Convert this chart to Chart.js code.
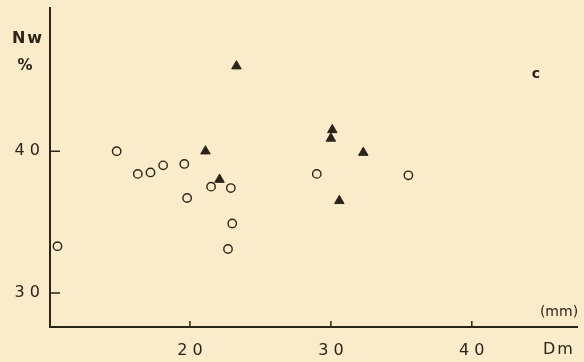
<!DOCTYPE html>
<html>
<head>
<meta charset="utf-8">
<script src="https://cdn.jsdelivr.net/npm/chart.js@4.4.0/dist/chart.umd.min.js"></script>
<style>
  html, body { margin: 0; padding: 0; background: #faecca; }
  #wrap { width: 584px; height: 362px; }
</style>
</head>
<body>
<div id="wrap"><canvas id="mycanvas"></canvas></div>
<script>
// open circles
var circleDm = [10.6, 14.8, 16.3, 17.2, 18.1, 19.6, 19.8, 21.5, 22.9, 23.0, 22.7, 29.0, 35.5];
var circleNw = [33.3, 40.0, 38.4, 38.5, 39.0, 39.1, 36.7, 37.5, 37.4, 34.9, 33.1, 38.4, 38.3];
// filled triangles
var triDm = [21.1, 22.1, 23.3, 30.1, 30.0, 32.3, 30.6];
var triNw = [40.0, 38.0, 46.0, 41.5, 40.9, 39.9, 36.5];

var xTicks = [20, 30, 40];
var yTicks = [30, 40];

var ink = '#2b2418';
var font = "'DejaVu Sans', sans-serif";

function pts(xs, ys) {
	var out = [];
	for (var i in xs) {
		out.push({x: xs[i], y: ys[i]});
	}
	return out;
}

var decor = {
	id: 'decor',
	afterDraw: function(chart) {
		var ctx = chart.ctx;
		var xs = chart.scales.x, ys = chart.scales.y;
		var a = chart.chartArea;
		ctx.save();
		ctx.strokeStyle = ink;
		ctx.lineWidth = 1.5;
		ctx.beginPath();
		// inward ticks
		for (var i in xTicks) {
			var px = xs.getPixelForValue(xTicks[i]);
			ctx.moveTo(px, a.bottom);
			ctx.lineTo(px, a.bottom - 6);
		}
		for (var j in yTicks) {
			var py = ys.getPixelForValue(yTicks[j]);
			ctx.moveTo(a.left, py);
			ctx.lineTo(a.left + 10, py);
		}
		ctx.stroke();

		ctx.fillStyle = ink;
		ctx.textBaseline = 'middle';
		ctx.textAlign = 'center';
		ctx.font = "bold 16px " + font;
		ctx.letterSpacing = '2px';
		ctx.fillText('Nw', 28, 39);
		ctx.letterSpacing = '0px';
		ctx.font = "bold 15px " + font;
		ctx.fillText('%', 25, 66);
		ctx.font = "bold 14px " + font;
		ctx.fillText('c', 536, 74);
		ctx.font = "14px " + font;
		ctx.fillText('(mm)', 559, 312);
		ctx.font = "16px " + font;
		ctx.letterSpacing = '2px';
		ctx.fillText('Dm', 559, 350);
		ctx.restore();
	}
};

var ctx = document.getElementById('mycanvas');

var chart = new Chart(ctx, {
	type: 'scatter',
	data: {
		datasets: [
			{
				label: 'open',
				data: pts(circleDm, circleNw),
				pointStyle: 'circle',
				pointRadius: 4.2,
				borderWidth: 1.4,
				borderColor: ink,
				backgroundColor: 'rgba(0,0,0,0)'
			},
			{
				label: 'filled',
				data: pts(triDm, triNw),
				pointStyle: 'triangle',
				pointRadius: 5.5,
				borderWidth: 1,
				borderColor: ink,
				backgroundColor: ink
			}
		]
	},
	options: {
		responsive: true,
		maintainAspectRatio: false,
		animation: false,
		events: [],
		layout: { padding: { top: 8, right: 4, left: 0, bottom: 0 } },
		plugins: { legend: { display: false }, tooltip: { enabled: false } },
		scales: {
			x: {
				type: 'linear',
				min: 10.07,
				max: 47.5,
				afterBuildTicks: function(s) { s.ticks = xTicks.map(function(v) { return {value: v}; }); },
				afterFit: function(s) { s.height = 35; s.paddingLeft = 0; s.paddingRight = 0; },
				grid: { display: false, drawTicks: false },
				border: { display: true, color: ink, width: 2 },
				ticks: {
					color: ink,
					padding: 14,
					font: { family: font, size: 16 },
					callback: function(v) { return String(v).split('').join(' '); }
				}
			},
			y: {
				type: 'linear',
				min: 27.6,
				max: 50.1,
				afterBuildTicks: function(s) { s.ticks = yTicks.map(function(v) { return {value: v}; }); },
				afterFit: function(s) { s.width = 50; s.paddingTop = 0; s.paddingBottom = 0; },
				grid: { display: false, drawTicks: false },
				border: { display: true, color: ink, width: 2 },
				ticks: {
					color: ink,
					padding: 10,
					font: { family: font, size: 16 },
					callback: function(v) { return String(v).split('').join(' '); }
				}
			}
		}
	},
	plugins: [decor]
});
</script>
</body>
</html>
